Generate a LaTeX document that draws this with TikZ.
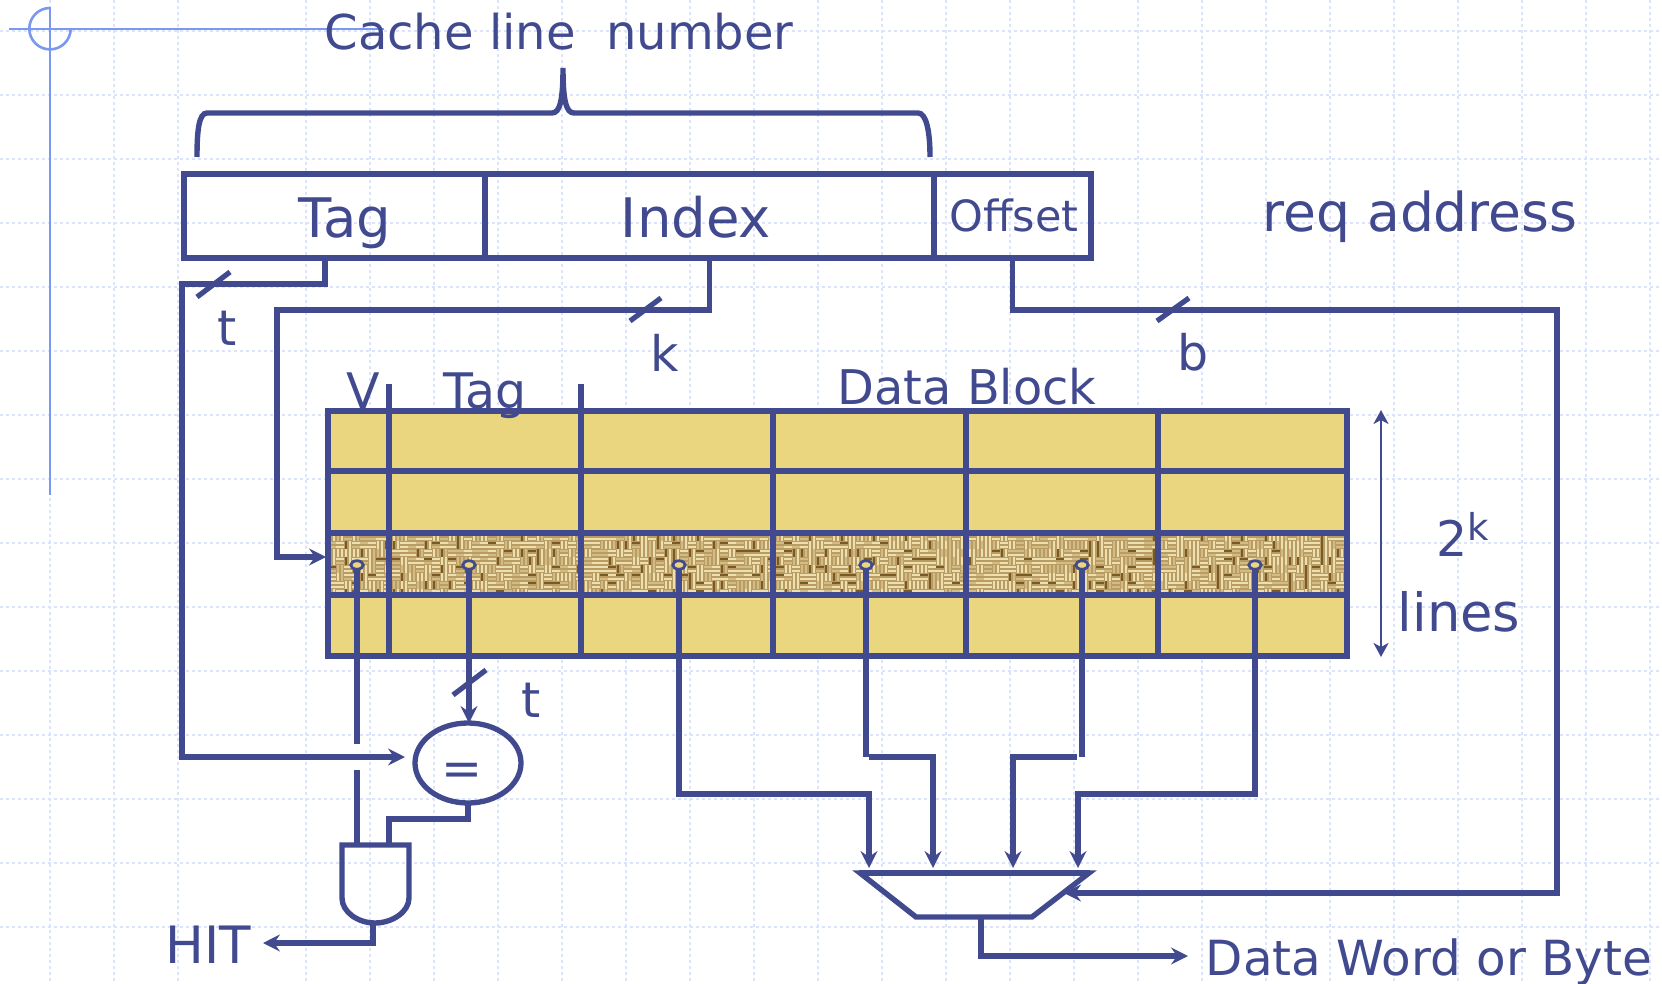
\documentclass[tikz,border=0pt]{standalone}
\usepackage{fontspec}
\setmainfont{DejaVu Sans}
\usepackage{xcolor}
\usetikzlibrary{arrows.meta,shapes.geometric}
\definecolor{ink}{HTML}{414A8F}
\definecolor{crosshair}{HTML}{7B98F0}
\definecolor{gridblue}{HTML}{DCE4FB}
\definecolor{straw}{HTML}{EAD67F}
\definecolor{burlap}{HTML}{B89C63}
\definecolor{strandlite}{HTML}{EDE0AE}
\definecolor{strandmid}{HTML}{D2BC84}
\definecolor{stranddark}{HTML}{7A5A24}

\begin{document}
\begin{tikzpicture}[x=1pt,y=-1pt,line width=5.3pt,draw=ink,
  wire/.style={draw=ink,line width=5.4pt},
  into/.style={wire,-{Stealth[length=17pt,width=17pt,inset=6pt]}},
  tickmark/.style={draw=ink,line width=5.2pt},
  field/.style={draw=ink,rectangle,inner sep=0pt,outer sep=0pt,minimum height=84pt},
  lbl/.style={text=ink,anchor=base,inner sep=0pt,font=\fontsize{49}{52}\selectfont},
  big/.style={lbl,font=\fontsize{54.5}{58}\selectfont},
  small/.style={lbl,font=\fontsize{43}{46}\selectfont},
  tap/.style={draw=ink,fill=straw,ellipse,line width=2.8pt,inner sep=0pt,outer sep=0pt,minimum width=12.5pt,minimum height=8.5pt},
  strand1/.style={draw=strandlite,line width=1.9pt},
  strand2/.style={draw=strandmid,line width=1.9pt},
  strand3/.style={draw=strandlite,line width=1.5pt},
  strand4/.style={draw=stranddark,line width=1.3pt}]
  \useasboundingbox (0,0) rectangle (1662,984);
  \fill[white] (0,0) rectangle (1662,984);

  % paper grid
  \foreach \gx in {50,114,178,306,370,...,1650}
    { \draw[gridblue,line width=1.2pt,dash pattern=on 3pt off 3pt] (\gx,0) -- (\gx,984); }
  \foreach \gy in {31,95,...,927}
    { \draw[gridblue,line width=1.2pt,dash pattern=on 3pt off 3pt] (0,\gy) -- (1662,\gy); }

  % slide corner mark
  \draw[crosshair,line width=2.6pt] (9,29) -- (384,29);
  \draw[crosshair,line width=2.6pt] (50,7) -- (50,495);
  \draw[crosshair,line width=2.6pt] (50,8) arc[start angle=-90,end angle=-360,radius=20.7];

  % brace
  \draw[wire] (197,157) .. controls (197,130) and (199,113) .. (207,113) -- (552,113)
    .. controls (560,113) and (563,100) .. (563,68)
    .. controls (563,100) and (566,113) .. (574,113) -- (918,113)
    .. controls (926,113) and (930,130) .. (930,157);

  % request address
  \node[field,minimum width=301pt] at (334.5,216) (fldtag) {};
  \node[field,minimum width=449pt] at (709.5,216) (fldidx) {};
  \node[field,minimum width=157pt] at (1012.5,216) (fldoff) {};

  % cache table
  \fill[straw] (328,411) rectangle (1347,656);
  \node[rectangle,fill=burlap,inner sep=0pt,outer sep=0pt,minimum width=1019pt,minimum height=62pt] at (837.5,564) (rowhit) {};
  \begin{scope}
    \clip (328,533) rectangle (1347,595);
    \pgfmathsetseed{41}
    \foreach \i in {0,...,127}
      { \foreach \j in {0,...,7}
        { \pgfmathsetmacro\cx{328+8*\i}
          \pgfmathsetmacro\cy{533+8*\j}
          \pgfmathrandominteger{\wv}{0}{1}
          \pgfmathrandominteger{\sa}{1}{4}
          \pgfmathrandominteger{\sb}{1}{3}
          \ifnum\wv=0
            \draw[strand\sa] (\cx,\cy+2) -- ++(8,0);
            \draw[strand\sb] (\cx,\cy+6) -- ++(8,0);
          \else
            \draw[strand\sa] (\cx+2,\cy) -- ++(0,8);
            \draw[strand\sb] (\cx+6,\cy) -- ++(0,8);
          \fi
        }
      }
  \end{scope}
  \draw[draw=ink] (328,411) rectangle (1347,656);
  \foreach \ry in {471,533,595}
    { \draw (328,\ry) -- (1347,\ry); }
  \foreach \cx/\ct in {389/384,581/384,773/411,966/411,1158/411}
    { \draw (\cx,\ct) -- (\cx,656); }
  \draw[draw=ink,line width=2.8pt,{Stealth[length=14pt,width=15pt,inset=4pt]}-{Stealth[length=14pt,width=15pt,inset=4pt]}] (1381,410) -- (1381,657);

  % taps on the selected line
  \foreach \n/\x in {d1/357,d2/469,d3/679,d4/866,d5/1082,d6/1255}
    { \node[tap] at (\x,565) (\n) {}; }

  % comparator, and gate, mux
  \node[draw=ink,ellipse,inner sep=0pt,outer sep=0pt,minimum width=106pt,minimum height=80pt] at (468,763) (cmp) {};
  \coordinate (andin1) at (357,845);
  \coordinate (andin2) at (389,845);
  \coordinate (andout) at (373,921);
  \draw[wire] (342,845) -- (409,845) -- (409,898)
    .. controls (409,912) and (392,923) .. (375,923)
    .. controls (358,923) and (342,912) .. (342,898) -- cycle;
  \coordinate (muxa) at (869,868);
  \coordinate (muxb) at (933,868);
  \coordinate (muxc) at (1013,868);
  \coordinate (muxd) at (1078,868);
  \coordinate (muxsel) at (1064,893);
  \coordinate (muxout) at (981,917);
  \draw[wire] (860,873) -- (1089,873) -- (1032,917) -- (916,917) -- cycle;
  \draw[wire,line width=6.4pt] (859,873) -- (1090,873);

  % wires out of the address
  \coordinate (hitcmp) at (405,757);
  \draw[into] ([xshift=-9.5pt]fldtag.south) |- (182,284) |- (hitcmp);
  \draw[into] (fldidx.south) |- (277,310) |- ([yshift=7pt,xshift=-2pt]rowhit.west);
  \draw[into] (fldoff.south) |- (1557,310) |- (muxsel);
  \draw[tickmark] (197,297) -- (230,272);
  \draw[tickmark] (630,321) -- (661,298);
  \draw[tickmark] (1157,321) -- (1189,298);

  % wires out of the table
  \coordinate (vgapa) at (357,744);
  \coordinate (vgapb) at (357,770);
  \draw[wire] (d1.south) -- (vgapa);
  \draw[wire] (vgapb) -- (andin1);
  \draw[into] (d2.south) -- (cmp.north -| d2.south);
  \draw[tickmark] (453,695) -- (486,670);
  \draw[wire] (cmp.south) |- (389,819) -- (andin2);
  \draw[into] (andout) |- (263,943);
  \draw[into] (d3.south) |- (869,794) -- (muxa);
  \draw[wire] (d4.south) -- (866,757);
  \draw[into] (869,757) -| (muxb);
  \draw[wire] (d5.south) -- (1082,757);
  \draw[into] (1077,757) -| (muxc);
  \draw[into] (d6.south) |- (1078,794) -- (muxd);
  \draw[into] (muxout) |- (1188,956);

  % labels
  \node[lbl,anchor=base west,font=\fontsize{48}{52}\selectfont] at (322,50) (lblcache) {Cache line\ \ number};
  \node[big] at (345,238) (lbltag) {Tag};
  \node[big] at (696,238) (lblidx) {Index};
  \node[small] at (1014,232) (lbloff) {Offset};
  \node[lbl,font=\fontsize{53.5}{58}\selectfont] at (1420,232) (lblreq) {req address};
  \node[lbl] at (227,345) (lblt) {t};
  \node[lbl] at (665,371) (lblk) {k};
  \node[lbl] at (1193,370) (lblb) {b};
  \node[lbl] at (363,408) (lblv) {V};
  \node[lbl] at (485,408) (lbltagcol) {Tag};
  \node[lbl,font=\fontsize{47.8}{52}\selectfont] at (967,404) (lbldata) {Data Block};
  \node[lbl,anchor=base west] at (1434,556) (lbltwok) {2\raisebox{16pt}{\fontsize{37}{40}\selectfont k}};
  \node[lbl,font=\fontsize{52.7}{56}\selectfont] at (1459,631) (lbllines) {lines};
  \node[lbl] at (531,717) (lblt2) {t};
  \node[lbl] at (462,785) (lbleq) {=};
  \node[lbl,font=\fontsize{51.5}{56}\selectfont] at (208.5,963) (lblhit) {HIT};
  \node[lbl,font=\fontsize{48.4}{52}\selectfont] at (1429,975) (lblword) {Data Word or Byte};
\end{tikzpicture}
\end{document}
